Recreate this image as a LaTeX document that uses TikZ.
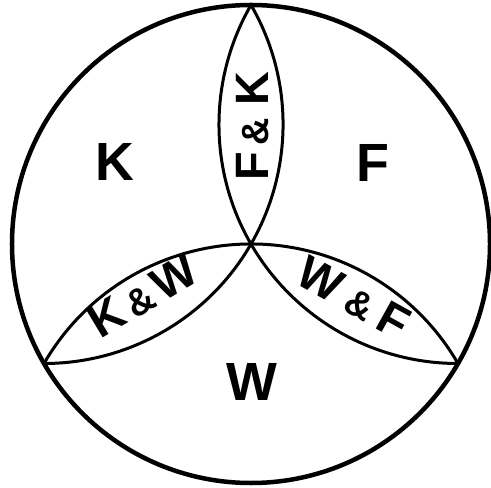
\documentclass[tikz,border=0pt]{standalone}
\usepackage{fontspec}
\setmainfont{Liberation Sans}

\begin{document}
\begin{tikzpicture}[
    x=1bp, y=1bp,
    rim/.style={line width=4.5bp},
    arcline/.style={line width=3bp},
    big/.style={font=\fontsize{54}{54}\selectfont\bfseries},
    small/.style={font=\fontsize{47}{47}\selectfont\bfseries},
]
\useasboundingbox (-251,-244) rectangle (240,244);
\def\R{239}
\newcommand{\amp}{{\fontsize{38}{38}\selectfont\&}}

% Punkte auf dem Kreis
\coordinate (O) at (0,0);
\coordinate (top) at (90:\R);
\coordinate (left) at (210:\R);
\coordinate (right) at (330:\R);

% Aussenkreis
\draw[rim] (O) circle[radius=\R];

% Boegen durch die Mitte
\draw[arcline] (top) arc[start angle=30, end angle=-90, radius=\R];
\draw[arcline] (right) arc[start angle=-90, end angle=-210, radius=\R];
\draw[arcline] (left) arc[start angle=150, end angle=30, radius=\R];

% Felder
\node[big] (k) at (-136,82) {K};
\node[big] (f) at (122,81) {F};
\node[big] (w) at (1,-138) {W};

% Schnittfelder
\node[small, rotate=90] (fk) at (2,117.5) {F\hspace{7bp}\amp\hspace{12bp}K};
\node[small, rotate=31] (kw) at (-108,-52) {K\hspace{6bp}\amp\hspace{6bp}W};
\node[small, rotate=-29] (wf) at (103,-54) {W\hspace{10bp}\amp\hspace{10bp}F};

\end{tikzpicture}
\end{document}
